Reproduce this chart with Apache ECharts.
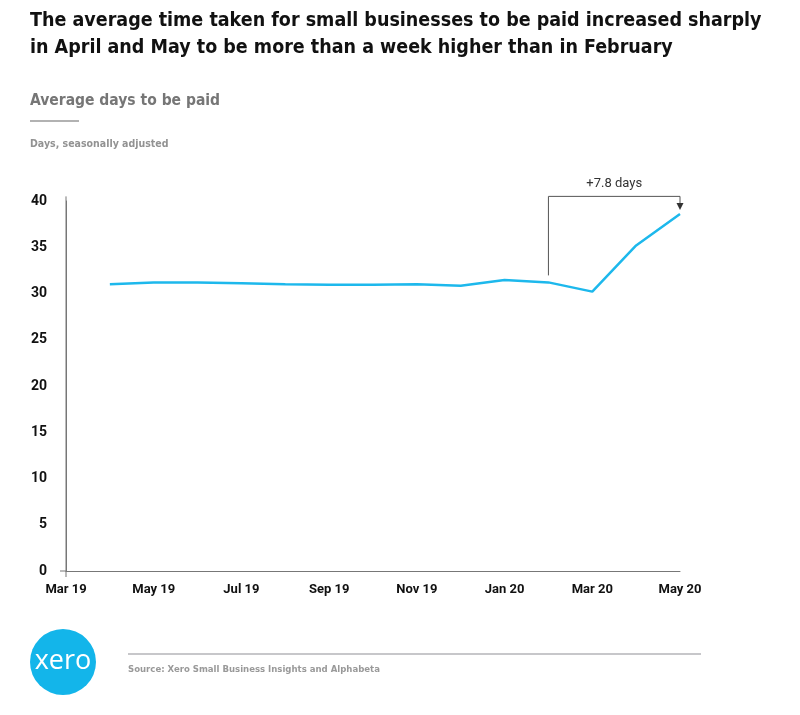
<!DOCTYPE html>
<html><head><meta charset="utf-8">
<script src="https://cdn.jsdelivr.net/npm/echarts@6/dist/echarts.min.js"></script>
<style>html,body{margin:0;padding:0;background:#fff}#c{width:800px;height:715px}</style>
</head><body><div id="c"></div>
<script>
const months = ['Mar 19','Apr 19','May 19','Jun 19','Jul 19','Aug 19','Sep 19','Oct 19','Nov 19','Dec 19','Jan 20','Feb 20','Mar 20','Apr 20','May 20'];
const avgDays = [null, 31.0, 31.2, 31.2, 31.1, 31.0, 30.95, 30.95, 31.0, 30.85, 31.45, 31.2, 30.2, 35.2, 38.6];
const yTicks = [0, 5, 10, 15, 20, 25, 30, 35, 40];
const annotation = { from: 'Feb 20', to: 'May 20', label: '+7.8 days' };

const chart = echarts.init(document.getElementById('c'), null, {renderer: 'canvas'});
const narrow = "'DejaVu Sans Condensed', 'DejaVu Sans', sans-serif";
const option = {
  animation: false,
  title: [
    {text: 'The average time taken for small businesses to be paid increased sharply\nin April and May to be more than a week higher than in February',
     left: 30, top: 7, padding: 0, textStyle: {fontFamily: narrow, fontWeight: 'bold', fontSize: 19.5, lineHeight: 27, color: '#111'}},
    {text: 'Average days to be paid', left: 30, top: 93, padding: 0,
     textStyle: {fontFamily: narrow, fontWeight: 'bold', fontSize: 15.5, color: '#767676'}},
    {text: 'Days, seasonally adjusted', left: 30, top: 139, padding: 0,
     textStyle: {fontFamily: narrow, fontWeight: 'bold', fontSize: 10.5, color: '#929292'}},
    {text: 'Source: Xero Small Business Insights and Alphabeta', left: 128, top: 665, padding: 0,
     textStyle: {fontFamily: narrow, fontWeight: 'bold', fontSize: 9.5, color: '#999'}}
  ],
  grid: {left: 66, right: 120, top: 201, bottom: 144},
  xAxis: {
    type: 'category', data: months, boundaryGap: false,
    axisLine: {lineStyle: {color: '#777', width: 1}},
    axisTick: {show: false},
    axisLabel: {interval: 1, margin: 12, color: '#111', fontWeight: 'bold', fontSize: 13, fontFamily: 'Roboto'}
  },
  yAxis: {
    type: 'value', min: yTicks[0], max: yTicks[yTicks.length - 1], interval: yTicks[1] - yTicks[0],
    axisLine: {show: true, lineStyle: {color: '#777', width: 1}},
    axisTick: {show: false},
    splitLine: {show: false},
    axisLabel: {margin: 19, color: '#111', fontWeight: 'bold', fontSize: 14, fontFamily: 'Roboto'}
  },
  series: [{
    type: 'line', data: avgDays, showSymbol: false, symbol: 'none',
    lineStyle: {color: '#1DB8EC', width: 2.5}, clip: false
  }]
};
chart.setOption(option);

function decorate() {
  const fi = months.indexOf(annotation.from), ti = months.indexOf(annotation.to);
  const pFrom = chart.convertToPixel({gridIndex: 0}, [fi, avgDays[fi]]);
  const pTo = chart.convertToPixel({gridIndex: 0}, [ti, avgDays[ti]]);
  const pTop = chart.convertToPixel({gridIndex: 0}, [ti, 40.5]);
  const origin = chart.convertToPixel({gridIndex: 0}, [0, 0]);
  const topY = pTop[1];
  const x0 = pFrom[0], x1 = pTo[0];
  const g = [
    {type: 'polyline', shape: {points: [[x0, pFrom[1] - 7], [x0, topY], [x1, topY], [x1, pTo[1] - 6]]},
     style: {stroke: '#555', lineWidth: 1, fill: null}, z: 10},
    {type: 'polygon', shape: {points: [[x1 - 3.5, pTo[1] - 11], [x1 + 3.5, pTo[1] - 11], [x1, pTo[1] - 4]]},
     style: {fill: '#333'}, z: 10},
    {type: 'text', x: (x0 + x1) / 2, y: topY - 13,
     style: {text: annotation.label, fontFamily: 'Roboto', fontSize: 13, fill: '#333', align: 'center', verticalAlign: 'middle'}, z: 10},
    {type: 'line', shape: {x1: origin[0] - 6, y1: origin[1], x2: origin[0], y2: origin[1]}, style: {stroke: '#777', lineWidth: 1}},
    {type: 'line', shape: {x1: origin[0], y1: origin[1], x2: origin[0], y2: origin[1] + 6}, style: {stroke: '#777', lineWidth: 1}},
    {type: 'line', shape: {x1: origin[0], y1: topY, x2: origin[0], y2: origin[1]}, style: {stroke: '#777', lineWidth: 1}},
    {type: 'line', shape: {x1: 30, y1: 121, x2: 79, y2: 121}, style: {stroke: '#999', lineWidth: 1.5}},
    {type: 'line', shape: {x1: 128, y1: 654, x2: 701, y2: 654}, style: {stroke: '#b4b4b8', lineWidth: 1.5}},
    {type: 'circle', shape: {cx: 63, cy: 662, r: 33}, style: {fill: '#13B5EA'}},
    {type: 'text', x: 63, y: 661, style: {text: 'xero', fontFamily: "'Open Sans', sans-serif", fontSize: 27, fill: '#fff', align: 'center', verticalAlign: 'middle'}}
  ];
  chart.setOption({graphic: g});
}
decorate();
</script></body></html>
